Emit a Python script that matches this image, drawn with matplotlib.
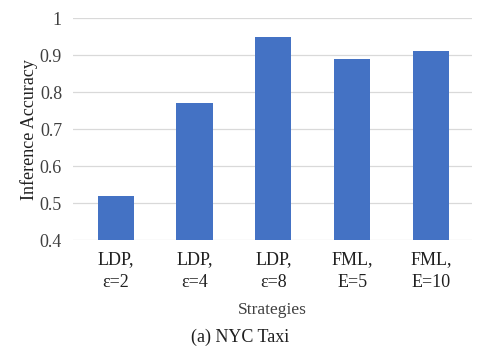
import matplotlib.pyplot as plt

strategies = ['LDP,\nε=2', 'LDP,\nε=4', 'LDP,\nε=8', 'FML,\nE=5', 'FML,\nE=10']
accuracy = [0.52, 0.77, 0.95, 0.89, 0.91]
yticks = [0.4, 0.5, 0.6, 0.7, 0.8, 0.9, 1.0]
ytick_labels = ['0.4', '0.5', '0.6', '0.7', '0.8', '0.9', '1']

plt.rcParams['font.family'] = ['Liberation Serif', 'DejaVu Serif']

fig = plt.figure(figsize=(4.81, 3.49), dpi=100)
ax = fig.add_axes([0.152, 0.312, 0.829, 0.636])

x = range(len(strategies))
ax.bar(x, accuracy, width=0.46, color='#4472C4', zorder=3)

ax.set_xlim(-0.54, len(strategies) - 0.48)
ax.set_ylim(0.4, 1.0)
ax.set_yticks(yticks)
ax.set_yticklabels(ytick_labels, fontsize=13, color='#404040')
ax.set_xticks(list(x))
ax.set_xticklabels(strategies, fontsize=13, color='#202020', linespacing=1.45)
ax.tick_params(axis='x', length=0, pad=8)
ax.tick_params(axis='y', length=0, pad=8)

ax.grid(axis='y', color='#d9d9d9', linewidth=0.9, zorder=0)
for s in ax.spines.values():
    s.set_visible(False)

ax.set_ylabel('Inference Accuracy', fontsize=13, color='#202020', labelpad=1)
ax.set_xlabel('Strategies', fontsize=12.5, color='#404040', labelpad=8)

fig.text(0.5, 0.034, '(a) NYC Taxi', ha='center', va='center', fontsize=13, color='#202020')

fig.savefig('out.png', dpi=100)
